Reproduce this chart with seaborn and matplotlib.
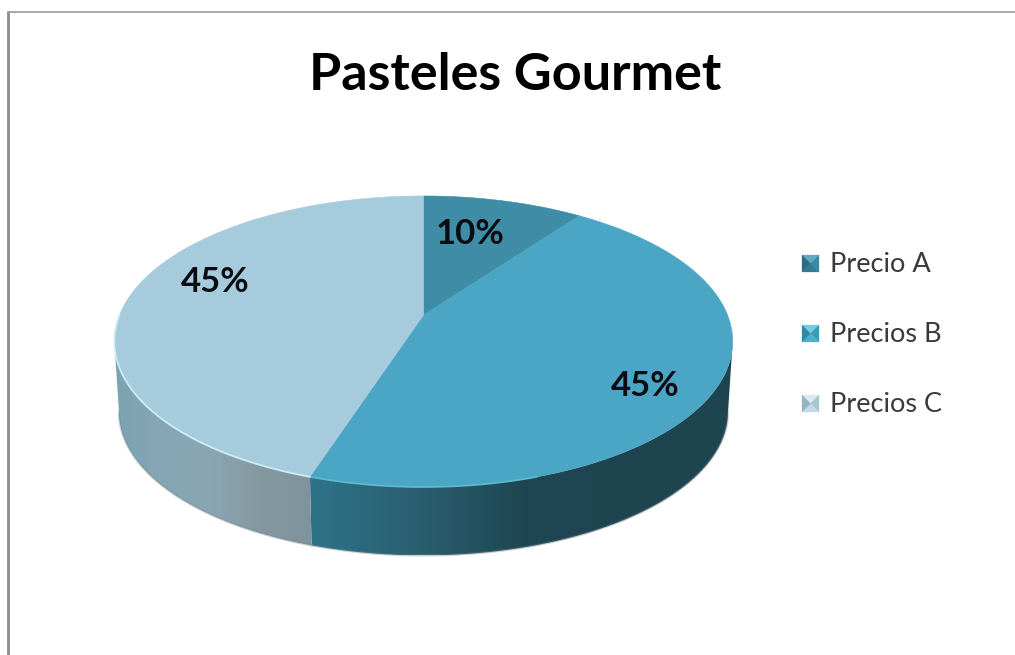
import numpy as np
import seaborn as sns
import matplotlib
matplotlib.use("Agg")
import matplotlib.pyplot as plt
from matplotlib.colors import LinearSegmentedColormap
from matplotlib.patches import Polygon

# Chart content
title_text = "Pasteles Gourmet"
categories = ["Precio A", "Precios B", "Precios C"]
shares = [10, 45, 45]

# Slice colours and the horizontal shading of the two visible outer walls
face_colors = ["#3f8ca6", "#4aa6c4", "#a6cbdc"]
wall_ramps = {
    1: ["#2f7389", "#2a5f70", "#1f4753", "#1e4450", "#1e4450"],
    2: ["#7ba3b3", "#86a6b5", "#8aa5b2", "#84999f", "#7e939d"],
}
marker_shades = [
    ("#5fa9c2", "#2f7d96", "#2c6c82", "#3a8aa4"),
    ("#74cbe3", "#4fb0cc", "#2f8aa6", "#3b9ab8"),
    ("#dbe9f0", "#c2dae5", "#94b5c4", "#a8c6d4"),
]

sns.set_theme(style="white")
palette = sns.color_palette(face_colors)
plt.rcParams["font.family"] = ["Lato", "DejaVu Sans"]

fig = plt.figure(figsize=(10.15, 6.55), dpi=100, facecolor="white")
ax = fig.add_axes([0, 0, 1, 1])
ax.set_xlim(0, 1015)
ax.set_ylim(655, 0)
ax.axis("off")

# Perspective camera for the disc
APEX_X, APEX_Y = 423.5, 315.0
SCALE_X, SCALE_Y, TILT = 304.0, 140.7, 0.182
DEPTH, BASE_SCALE = 71.0, 0.985

# Angle offset of the disc's widest points, where the silhouette turns
SILHOUETTE = np.arcsin(TILT)


def project(angle, radius=1.0, level=0.0):
    """Map a clockwise angle from 12 o'clock onto the tilted disc."""
    x = radius * np.sin(angle)
    y = radius * np.cos(angle)
    w = 1 + TILT * y
    scale = 1 + (BASE_SCALE - 1) * level
    return (APEX_X + scale * SCALE_X * x / w,
            APEX_Y - scale * SCALE_Y * y / w + DEPTH * level)


fractions = np.asarray(shares, dtype=float) / sum(shares)
edges = 2 * np.pi * np.concatenate([[0], np.cumsum(fractions)])

# Outer walls, painted as clipped horizontal gradients
for index, ramp in wall_ramps.items():
    start = max(edges[index], np.pi / 2 + SILHOUETTE)
    stop = min(edges[index + 1], 3 * np.pi / 2 - SILHOUETTE)
    t = np.linspace(start, stop, 200)
    xt, yt = project(t)
    xb, yb = project(t, level=1.0)
    outline = np.column_stack([np.r_[xt, xb[::-1]], np.r_[yt, yb[::-1]]])
    cmap = LinearSegmentedColormap.from_list(f"wall{index}", ramp)
    low, high = outline[:, 0].min(), outline[:, 0].max()
    image = ax.imshow(np.linspace(0, 1, 256)[None, :], cmap=cmap, aspect="auto",
                      extent=[low, high, outline[:, 1].max(), outline[:, 1].min()],
                      zorder=2)
    image.set_clip_path(Polygon(outline, closed=True, transform=ax.transData))
    # Soft grey fringe under the wall
    ax.plot(xb, yb, color="#6f7f86", linewidth=1.6, alpha=0.35, zorder=2.5)

# Restore the view after imshow adjusted the limits
ax.set_xlim(0, 1015)
ax.set_ylim(655, 0)

# Top faces of the slices
for index, color in enumerate(palette):
    t = np.linspace(edges[index], edges[index + 1], 240)
    xs, ys = project(t)
    ax.add_patch(Polygon(np.column_stack([np.r_[APEX_X, xs], np.r_[APEX_Y, ys]]),
                         closed=True, facecolor=color, edgecolor=color,
                         linewidth=0.4, zorder=3))

# Bright bevel along the front rim
for index, rim, lo in [(1, "#5fbbd5", np.pi * 0.9), (2, "#d2f1f8", edges[2])]:
    t = np.linspace(max(edges[index], lo), min(edges[index + 1], 3 * np.pi / 2), 200)
    xs, ys = project(t)
    ax.plot(xs, ys, color=rim, linewidth=1.3, alpha=0.9, zorder=4,
            solid_capstyle="round")

# Percentage labels on the slices
label_spots = [(470, 234), (645, 386), (215, 282)]
for share, (lx, ly) in zip(shares, label_spots):
    ax.text(lx, ly, f"{share}%", ha="center", va="center", fontsize=25,
            fontweight="bold", color="#0b0b12", zorder=5)

# Title
ax.text(515.5, 75, title_text, ha="center", va="center", fontsize=37.5,
        fontweight="bold", color="black", zorder=5)

# Legend with bevelled square keys
KEY = 17
for index, name in enumerate(categories):
    ky = 255 + 70 * index
    kx = 802
    cx, cy = kx + KEY / 2, ky + KEY / 2
    top, bottom, left, right = marker_shades[index]
    corners = [(kx, ky), (kx + KEY, ky), (kx + KEY, ky + KEY), (kx, ky + KEY)]
    for (a, b), shade in zip(zip(corners, corners[1:] + corners[:1]),
                             [top, right, bottom, left]):
        ax.add_patch(Polygon([a, b, (cx, cy)], closed=True, facecolor=shade,
                             edgecolor=shade, linewidth=0.2, zorder=5))
    ax.text(830, cy + 1, name, ha="left", va="center", fontsize=19.5,
            color="#3a3a3a", zorder=5)

# Chart-area border: only the top and left edges fall inside the canvas
ax.plot([8, 8], [655, 11.5], color="#8c8c8c", linewidth=2.0, zorder=6)
ax.plot([8, 1015], [11.5, 11.5], color="#9a9a9a", linewidth=1.2, zorder=6)

fig.savefig("out.png", dpi=100, facecolor="white")
